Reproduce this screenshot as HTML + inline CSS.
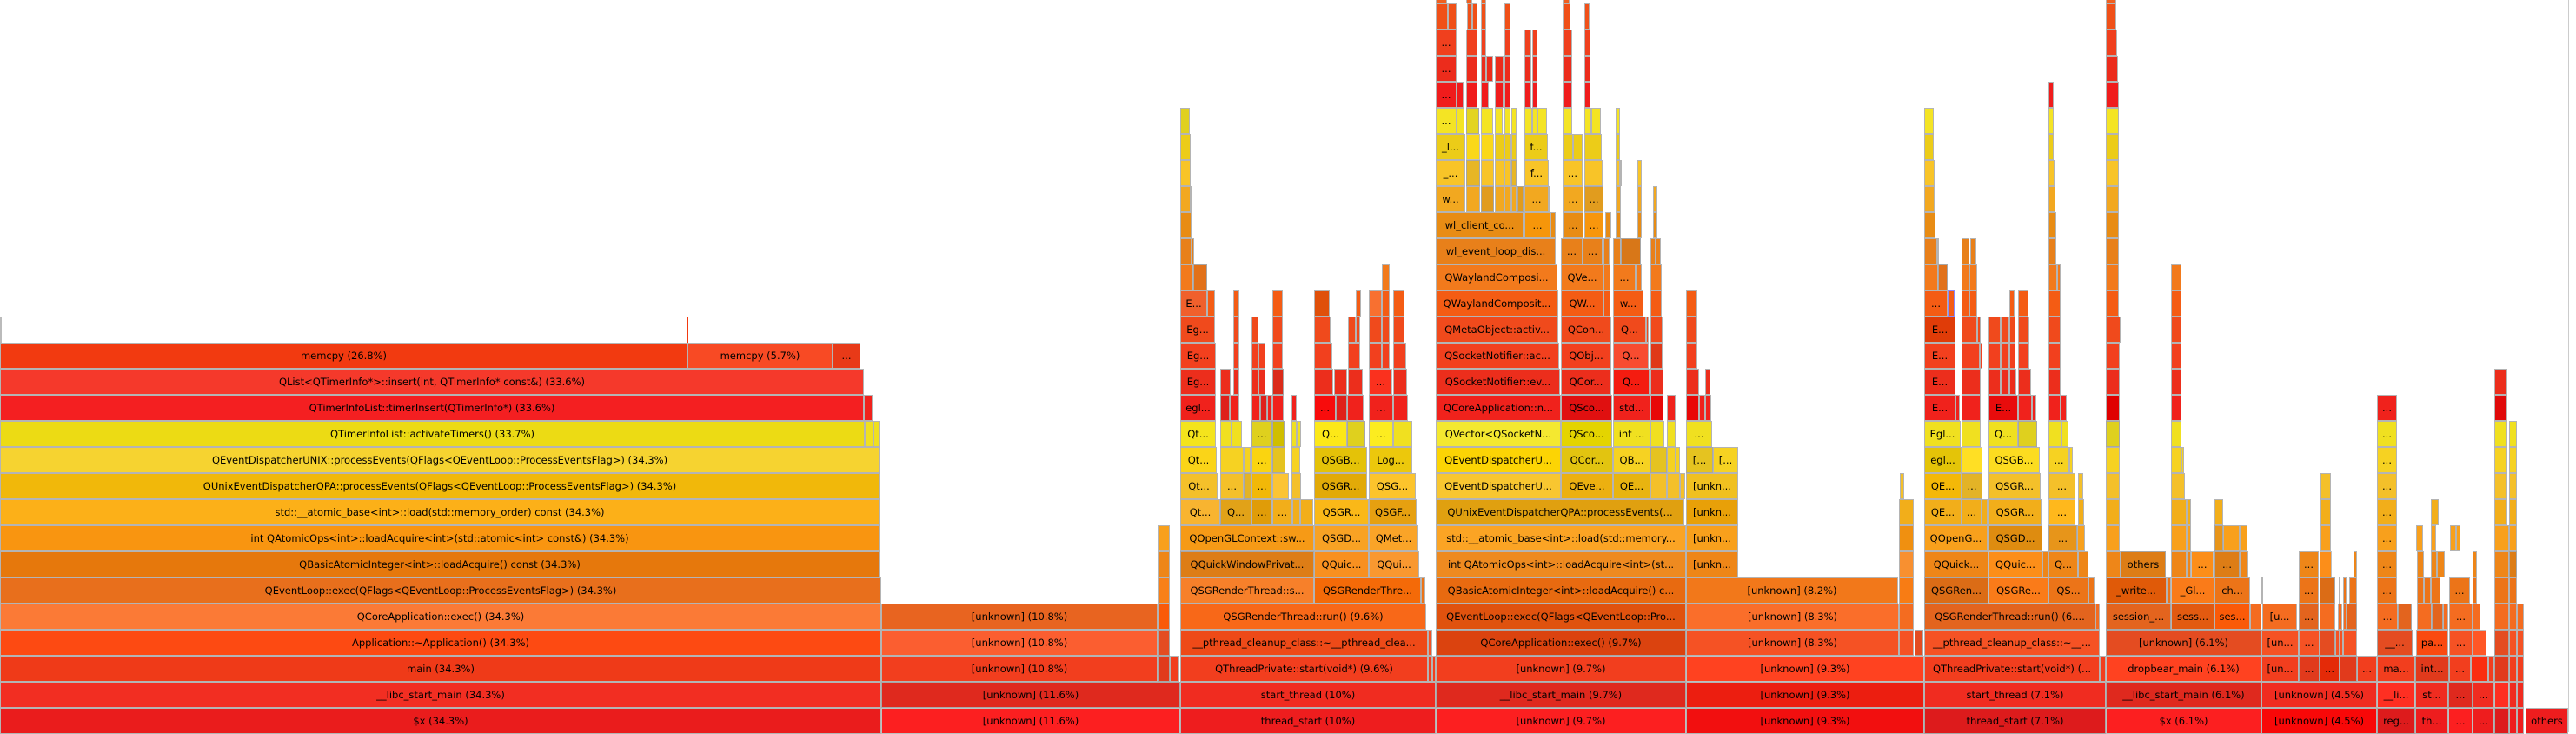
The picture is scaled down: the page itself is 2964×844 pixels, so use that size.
<!DOCTYPE html>
<html><head><meta charset="utf-8"><style>
html,body{margin:0;padding:0;background:#fff;}
body{width:2964px;height:842px;position:relative;overflow:hidden;}
i{position:absolute;height:30px;box-sizing:border-box;border:1px solid #b4b4b4;font:11.5px/28px "DejaVu Sans",sans-serif;color:#000;text-align:center;white-space:nowrap;overflow:hidden;font-style:normal;}
.r0{top:814px;background:#ee1d1e}.r1{top:784px;background:#f02c20}.r2{top:754px;background:#f23e1e}.r3{top:724px;background:#f55224}.r4{top:694px;background:#f46c20}
.r5{top:664px;background:#ec7418}.r6{top:634px;background:#ee8618}.r7{top:604px;background:#f8a01c}.r8{top:574px;background:#f2ae1a}.r9{top:544px;background:#f4c02a}
.r10{top:514px;background:#f6d222}.r11{top:484px;background:#f0e020}.r12{top:454px;background:#f0221c}.r13{top:424px;background:#ec2e1c}.r14{top:394px;background:#f2401e}
.r15{top:364px;background:#f04a1c}.r16{top:334px;background:#f45c14}.r17{top:304px;background:#f27a1c}.r18{top:274px;background:#e8801a}.r19{top:244px;background:#e88c14}
.r20{top:214px;background:#f2a820}.r21{top:184px;background:#f8c428}.r22{top:154px;background:#eccc18}.r23{top:124px;background:#f4e424}.r24{top:94px;background:#f01c1c}
.r25{top:64px;background:#ec2c1c}.r26{top:34px;background:#f0401e}.r27{top:4px;background:#f05018}.r28{top:-26px;background:#f06020}
.d{filter:brightness(.93)}.e{filter:brightness(1.06)}
</style></head><body>
<div style="position:absolute;left:2955px;top:0;width:1px;height:842px;background:#ccc"></div>
<!-- row 0 -->
<i class="r0" style="left:0;width:1014px;background:#ea1c1c">$x (34.3%)</i>
<i class="r0 e" style="left:1014px;width:344px">[unknown] (11.6%)</i>
<i class="r0" style="left:1358px;width:294px">thread_start (10%)</i>
<i class="r0 e" style="left:1652px;width:288px">[unknown] (9.7%)</i>
<i class="r0" style="left:1940px;width:274px;background:#f20f0f">[unknown] (9.3%)</i>
<i class="r0 d" style="left:2214px;width:209px">thread_start (7.1%)</i>
<i class="r0 e" style="left:2423px;width:179px">$x (6.1%)</i>
<i class="r0" style="left:2602px;width:133px;background:#f80808">[unknown] (4.5%)</i>
<i class="r0 d" style="left:2735px;width:44px">reg...</i>
<i class="r0" style="left:2779px;width:38px">th...</i>
<i class="r0 e" style="left:2817px;width:28px">...</i>
<i class="r0" style="left:2845px;width:25px">...</i>
<i class="r0 d" style="left:2870px;width:17px"></i>
<i class="r0" style="left:2887px;width:9px"></i>
<i class="r0" style="left:2896px;width:8px"></i>
<i class="r0" style="left:2906px;width:49px">others</i>
<!-- row 1 -->
<i class="r1" style="left:0;width:1014px;background:#f22e22">__libc_start_main (34.3%)</i>
<i class="r1 d" style="left:1014px;width:344px">[unknown] (11.6%)</i>
<i class="r1" style="left:1358px;width:294px">start_thread (10%)</i>
<i class="r1 d" style="left:1652px;width:288px">__libc_start_main (9.7%)</i>
<i class="r1" style="left:1940px;width:274px;background:#ec1e10">[unknown] (9.3%)</i>
<i class="r1" style="left:2214px;width:209px">start_thread (7.1%)</i>
<i class="r1 d" style="left:2423px;width:179px">__libc_start_main (6.1%)</i>
<i class="r1" style="left:2602px;width:133px">[unknown] (4.5%)</i>
<i class="r1 e" style="left:2735px;width:44px">__li...</i>
<i class="r1" style="left:2779px;width:38px">st...</i>
<i class="r1 d" style="left:2817px;width:28px">...</i>
<i class="r1" style="left:2845px;width:25px">...</i>
<i class="r1 e" style="left:2870px;width:17px"></i>
<i class="r1" style="left:2887px;width:9px"></i>
<i class="r1" style="left:2896px;width:8px"></i>
<!-- row 2 -->
<i class="r2" style="left:0;width:1014px;background:#ef3a18">main (34.3%)</i>
<i class="r2" style="left:1014px;width:318px">[unknown] (10.8%)</i>
<i class="r2 d" style="left:1332px;width:14px"></i>
<i class="r2" style="left:1346px;width:11px"></i>
<i class="r2" style="left:1358px;width:285px">QThreadPrivate::start(void*) (9.6%)</i>
<i class="r2" style="left:1643px;width:5px"></i><i class="r2" style="left:1648px;width:4px"></i>
<i class="r2" style="left:1652px;width:288px">[unknown] (9.7%)</i>
<i class="r2 e" style="left:1940px;width:274px">[unknown] (9.3%)</i>
<i class="r2" style="left:2214px;width:202px">QThreadPrivate::start(void*) (...</i>
<i class="r2" style="left:2416px;width:7px"></i>
<i class="r2 e" style="left:2423px;width:179px">dropbear_main (6.1%)</i>
<i class="r2" style="left:2602px;width:43px">[un...</i>
<i class="r2 d" style="left:2645px;width:24px">...</i>
<i class="r2" style="left:2669px;width:23px;background:#e42a08">...</i>
<i class="r2 d" style="left:2692px;width:20px"></i>
<i class="r2" style="left:2712px;width:23px">...</i>
<i class="r2" style="left:2735px;width:44px">ma...</i>
<i class="r2 d" style="left:2779px;width:39px">int...</i>
<i class="r2" style="left:2818px;width:25px">...</i>
<i class="r2" style="left:2843px;width:20px;background:#fa2e10"></i>
<i class="r2" style="left:2863px;width:7px"></i>
<i class="r2 d" style="left:2870px;width:17px"></i>
<i class="r2" style="left:2887px;width:9px"></i>
<i class="r2" style="left:2896px;width:8px"></i>
<!-- row 3 -->
<i class="r3" style="left:0;width:1014px;background:#fd4a12">Application::~Application() (34.3%)</i>
<i class="r3" style="left:1014px;width:318px;background:#fb5e30">[unknown] (10.8%)</i>
<i class="r3 d" style="left:1332px;width:14px"></i>
<i class="r3" style="left:1358px;width:285px;background:#ee4a18">__pthread_cleanup_class::~__pthread_clea...</i>
<i class="r3" style="left:1643px;width:5px"></i>
<i class="r3 d" style="left:1652px;width:288px;background:#ec4810">QCoreApplication::exec() (9.7%)</i>
<i class="r3" style="left:1940px;width:245px">[unknown] (8.3%)</i>
<i class="r3" style="left:2185px;width:17px"></i><i class="r3 d" style="left:2203px;width:10px"></i>
<i class="r3" style="left:2214px;width:202px">__pthread_cleanup_class::~__...</i>
<i class="r3 d" style="left:2423px;width:179px">[unknown] (6.1%)</i>
<i class="r3" style="left:2602px;width:43px">[un...</i>
<i class="r3" style="left:2645px;width:24px">...</i>
<i class="r3 d" style="left:2669px;width:18px"></i><i class="r3" style="left:2687px;width:5px"></i><i class="r3" style="left:2692px;width:4px"></i><i class="r3" style="left:2696px;width:16px"></i>
<i class="r3 d" style="left:2735px;width:41px">__...</i>
<i class="r3" style="left:2780px;width:37px;background:#fa4a10">pa...</i>
<i class="r3" style="left:2818px;width:27px">...</i>
<i class="r3 e" style="left:2845px;width:16px"></i>
<i class="r3 d" style="left:2870px;width:17px"></i><i class="r3" style="left:2887px;width:9px"></i><i class="r3" style="left:2896px;width:8px"></i>
<!-- row 4 -->
<i class="r4" style="left:0;width:1014px;background:#fb7a36">QCoreApplication::exec() (34.3%)</i>
<i class="r4" style="left:1014px;width:318px;background:#e86420">[unknown] (10.8%)</i>
<i class="r4" style="left:1332px;width:14px;background:#fa5a08"></i>
<i class="r4" style="left:1358px;width:283px;background:#f86818">QSGRenderThread::run() (9.6%)</i>
<i class="r4" style="left:1652px;width:288px;background:#e0520e">QEventLoop::exec(QFlags&lt;QEventLoop::Pro...</i>
<i class="r4" style="left:1940px;width:245px;background:#fa6e2a">[unknown] (8.3%)</i>
<i class="r4" style="left:2185px;width:17px"></i>
<i class="r4 d" style="left:2214px;width:197px">QSGRenderThread::run() (6....</i>
<i class="r4" style="left:2411px;width:5px"></i>
<i class="r4 d" style="left:2423px;width:75px">session_...</i>
<i class="r4" style="left:2498px;width:50px;background:#e25a10">sess...</i>
<i class="r4" style="left:2548px;width:41px;background:#fa5a08">ses...</i>
<i class="r4" style="left:2589px;width:13px"></i>
<i class="r4" style="left:2603px;width:40px">[u...</i>
<i class="r4 d" style="left:2645px;width:23px">...</i>
<i class="r4" style="left:2669px;width:18px"></i><i class="r4" style="left:2690px;width:5px"></i><i class="r4" style="left:2696px;width:4px"></i><i class="r4 d" style="left:2700px;width:12px"></i>
<i class="r4" style="left:2735px;width:24px">...</i><i class="r4 d" style="left:2759px;width:16px"></i>
<i class="r4" style="left:2781px;width:17px"></i><i class="r4 d" style="left:2798px;width:13px"></i><i class="r4" style="left:2811px;width:6px"></i>
<i class="r4" style="left:2818px;width:27px">...</i><i class="r4" style="left:2845px;width:9px"></i>
<i class="r4" style="left:2870px;width:17px"></i><i class="r4" style="left:2887px;width:9px"></i><i class="r4" style="left:2896px;width:8px"></i>
<!-- row 5 -->
<i class="r5" style="left:0;width:1014px;background:#e86f1c">QEventLoop::exec(QFlags&lt;QEventLoop::ProcessEventsFlag&gt;) (34.3%)</i>
<i class="r5" style="left:1332px;width:14px;background:#f88018"></i>
<i class="r5" style="left:1358px;width:154px;background:#f7802a">QSGRenderThread::s...</i>
<i class="r5" style="left:1512px;width:123px;background:#f46a08">QSGRenderThre...</i>
<i class="r5" style="left:1635px;width:5px"></i>
<i class="r5" style="left:1652px;width:288px;background:#e86a10">QBasicAtomicInteger&lt;int&gt;::loadAcquire() c...</i>
<i class="r5" style="left:1940px;width:244px;background:#f2781a">[unknown] (8.2%)</i>
<i class="r5" style="left:2185px;width:17px;background:#f87c14"></i>
<i class="r5 d" style="left:2214px;width:74px">QSGRen...</i>
<i class="r5 e" style="left:2288px;width:69px">QSGRe...</i>
<i class="r5" style="left:2357px;width:46px">QS...</i><i class="r5" style="left:2403px;width:7px"></i>
<i class="r5" style="left:2423px;width:70px;background:#e05a08">_write...</i><i class="r5" style="left:2493px;width:5px"></i>
<i class="r5 e" style="left:2498px;width:50px">_Gl...</i>
<i class="r5" style="left:2548px;width:41px">ch...</i>
<i class="r5" style="left:2602px;width:2px"></i>
<i class="r5" style="left:2645px;width:23px">...</i><i class="r5 d" style="left:2669px;width:18px"></i>
<i class="r5" style="left:2691px;width:2px"></i><i class="r5" style="left:2696px;width:4px"></i><i class="r5" style="left:2703px;width:9px"></i>
<i class="r5" style="left:2735px;width:23px">...</i>
<i class="r5" style="left:2781px;width:8px"></i><i class="r5" style="left:2789px;width:8px"></i><i class="r5" style="left:2797px;width:11px"></i>
<i class="r5" style="left:2818px;width:24px">...</i><i class="r5" style="left:2845px;width:5px"></i>
<i class="r5" style="left:2870px;width:17px"></i><i class="r5" style="left:2887px;width:9px"></i>
<!-- row 6 -->
<i class="r6" style="left:0;width:1012px;background:#e6780c">QBasicAtomicInteger&lt;int&gt;::loadAcquire() const (34.3%)</i>
<i class="r6" style="left:1332px;width:14px"></i>
<i class="r6 d" style="left:1358px;width:154px">QQuickWindowPrivat...</i>
<i class="r6" style="left:1512px;width:63px;background:#f89020">QQuic...</i>
<i class="r6" style="left:1575px;width:58px;background:#f99830">QQui...</i>
<i class="r6" style="left:1652px;width:288px;background:#ee8a20">int QAtomicOps&lt;int&gt;::loadAcquire&lt;int&gt;(st...</i>
<i class="r6" style="left:1940px;width:60px">[unkn...</i>
<i class="r6" style="left:2185px;width:17px;background:#f89030"></i>
<i class="r6" style="left:2214px;width:74px">QQuick...</i>
<i class="r6 e" style="left:2288px;width:62px">QQuic...</i><i class="r6" style="left:2350px;width:7px"></i>
<i class="r6" style="left:2357px;width:34px">Q...</i><i class="r6" style="left:2391px;width:12px"></i>
<i class="r6" style="left:2423px;width:17px"></i>
<i class="r6 d" style="left:2440px;width:52px">others</i>
<i class="r6" style="left:2498px;width:18px"></i><i class="r6" style="left:2516px;width:5px"></i><i class="r6 e" style="left:2521px;width:26px">...</i>
<i class="r6 d" style="left:2548px;width:29px">...</i><i class="r6" style="left:2577px;width:10px"></i>
<i class="r6" style="left:2645px;width:23px">...</i><i class="r6 e" style="left:2669px;width:14px"></i><i class="r6" style="left:2708px;width:4px"></i>
<i class="r6" style="left:2735px;width:23px">...</i>
<i class="r6" style="left:2781px;width:8px"></i><i class="r6" style="left:2797px;width:7px"></i><i class="r6" style="left:2804px;width:9px"></i>
<i class="r6" style="left:2845px;width:5px"></i><i class="r6" style="left:2870px;width:17px"></i><i class="r6 d" style="left:2887px;width:9px"></i>
<!-- row 7 -->
<i class="r7" style="left:0;width:1012px;background:#f99510">int QAtomicOps&lt;int&gt;::loadAcquire&lt;int&gt;(std::atomic&lt;int&gt; const&amp;) (34.3%)</i>
<i class="r7" style="left:1332px;width:14px"></i>
<i class="r7" style="left:1358px;width:154px;background:#f69a16">QOpenGLContext::sw...</i>
<i class="r7" style="left:1512px;width:63px;background:#f8a224">QSGD...</i>
<i class="r7" style="left:1575px;width:57px;background:#faa428">QMet...</i>
<i class="r7" style="left:1652px;width:288px;background:#fba424">std::__atomic_base&lt;int&gt;::load(std::memory...</i>
<i class="r7" style="left:1940px;width:60px">[unkn...</i>
<i class="r7" style="left:2185px;width:17px;background:#f09010"></i>
<i class="r7" style="left:2214px;width:73px">QOpenG...</i>
<i class="r7" style="left:2288px;width:62px;background:#de8c10">QSGD...</i>
<i class="r7 d" style="left:2357px;width:33px">...</i><i class="r7" style="left:2390px;width:9px"></i>
<i class="r7" style="left:2423px;width:16px"></i>
<i class="r7" style="left:2498px;width:18px"></i><i class="r7" style="left:2516px;width:5px"></i><i class="r7 d" style="left:2548px;width:10px"></i><i class="r7" style="left:2558px;width:19px"></i><i class="r7" style="left:2577px;width:9px"></i>
<i class="r7" style="left:2670px;width:12px"></i>
<i class="r7" style="left:2735px;width:23px">...</i>
<i class="r7" style="left:2780px;width:8px"></i><i class="r7" style="left:2797px;width:6px"></i><i class="r7" style="left:2819px;width:7px"></i><i class="r7" style="left:2826px;width:5px"></i>
<i class="r7" style="left:2870px;width:17px"></i><i class="r7" style="left:2887px;width:9px"></i>
<!-- row 8 -->
<i class="r8" style="left:0;width:1012px;background:#fcb018">std::__atomic_base&lt;int&gt;::load(std::memory_order) const (34.3%)</i>
<i class="r8" style="left:1358px;width:46px;background:#f8b430">Qt...</i>
<i class="r8 d" style="left:1404px;width:36px">Q...</i>
<i class="r8" style="left:1440px;width:24px;background:#e09c08">...</i>
<i class="r8" style="left:1464px;width:23px">...</i>
<i class="r8" style="left:1487px;width:9px"></i><i class="r8" style="left:1496px;width:15px"></i>
<i class="r8" style="left:1512px;width:63px;background:#fab818">QSGR...</i>
<i class="r8" style="left:1575px;width:55px;background:#e6a010">QSGF...</i>
<i class="r8" style="left:1652px;width:286px;background:#e0a010">QUnixEventDispatcherQPA::processEvents(...</i>
<i class="r8" style="left:1940px;width:60px;background:#e8a008">[unkn...</i>
<i class="r8" style="left:2185px;width:17px"></i>
<i class="r8" style="left:2214px;width:43px">QE...</i><i class="r8" style="left:2257px;width:23px">...</i><i class="r8" style="left:2280px;width:7px"></i>
<i class="r8" style="left:2288px;width:61px">QSGR...</i>
<i class="r8 e" style="left:2357px;width:31px">...</i><i class="r8" style="left:2391px;width:7px"></i>
<i class="r8" style="left:2423px;width:16px"></i>
<i class="r8" style="left:2498px;width:18px"></i><i class="r8" style="left:2516px;width:5px"></i><i class="r8" style="left:2548px;width:10px"></i>
<i class="r8" style="left:2670px;width:12px"></i>
<i class="r8" style="left:2735px;width:23px">...</i>
<i class="r8" style="left:2797px;width:9px"></i>
<i class="r8" style="left:2870px;width:15px"></i><i class="r8" style="left:2887px;width:9px"></i>
<!-- row 9 -->
<i class="r9" style="left:0;width:1012px;background:#f1b80a">QUnixEventDispatcherQPA::processEvents(QFlags&lt;QEventLoop::ProcessEventsFlag&gt;) (34.3%)</i>
<i class="r9" style="left:1358px;width:43px">Qt...</i>
<i class="r9" style="left:1404px;width:27px">...</i><i class="r9 d" style="left:1431px;width:9px"></i>
<i class="r9" style="left:1440px;width:24px;background:#f2b808">...</i>
<i class="r9" style="left:1464px;width:19px;background:#fcc434"></i>
<i class="r9" style="left:1486px;width:11px"></i>
<i class="r9" style="left:1512px;width:61px;background:#e2aa08">QSGR...</i>
<i class="r9" style="left:1575px;width:54px;background:#fcc42c">QSG...</i>
<i class="r9" style="left:1652px;width:144px;background:#f8c630">QEventDispatcherU...</i>
<i class="r9" style="left:1796px;width:60px;background:#ecb010">QEve...</i>
<i class="r9" style="left:1856px;width:43px;background:#e8b410">QE...</i>
<i class="r9" style="left:1899px;width:19px"></i><i class="r9" style="left:1918px;width:15px"></i><i class="r9" style="left:1933px;width:6px"></i>
<i class="r9" style="left:1940px;width:60px;background:#f0c020">[unkn...</i>
<i class="r9" style="left:2186px;width:5px"></i>
<i class="r9" style="left:2214px;width:43px;background:#f4b808">QE...</i><i class="r9 d" style="left:2257px;width:24px">...</i>
<i class="r9" style="left:2288px;width:60px">QSGR...</i>
<i class="r9" style="left:2357px;width:31px">...</i><i class="r9" style="left:2391px;width:6px"></i>
<i class="r9" style="left:2423px;width:16px"></i><i class="r9" style="left:2498px;width:16px"></i><i class="r9" style="left:2670px;width:12px"></i>
<i class="r9" style="left:2735px;width:23px">...</i>
<i class="r9" style="left:2870px;width:15px"></i><i class="r9" style="left:2887px;width:9px"></i>
<!-- row 10 -->
<i class="r10" style="left:0;width:1012px;background:#f6d330">QEventDispatcherUNIX::processEvents(QFlags&lt;QEventLoop::ProcessEventsFlag&gt;) (34.3%)</i>
<i class="r10" style="left:1358px;width:42px;background:#fad418">Qt...</i>
<i class="r10" style="left:1404px;width:27px"></i><i class="r10" style="left:1431px;width:8px"></i>
<i class="r10" style="left:1440px;width:24px;background:#fad410">...</i>
<i class="r10 d" style="left:1464px;width:15px"></i>
<i class="r10" style="left:1486px;width:10px"></i>
<i class="r10" style="left:1512px;width:61px;background:#e4c208">QSGB...</i>
<i class="r10" style="left:1575px;width:50px;background:#ecc80c">Log...</i>
<i class="r10" style="left:1652px;width:144px;background:#fcd404">QEventDispatcherU...</i>
<i class="r10" style="left:1796px;width:60px;background:#e2c410">QCor...</i>
<i class="r10" style="left:1856px;width:43px">QB...</i>
<i class="r10 d" style="left:1899px;width:19px"></i><i class="r10" style="left:1918px;width:10px"></i><i class="r10" style="left:1928px;width:5px"></i>
<i class="r10 d" style="left:1940px;width:31px">[...</i><i class="r10" style="left:1971px;width:29px">[...</i>
<i class="r10" style="left:2214px;width:43px;background:#e4c408">egl...</i><i class="r10 e" style="left:2257px;width:24px"></i>
<i class="r10" style="left:2288px;width:59px;background:#fcdc20">QSGB...</i>
<i class="r10" style="left:2357px;width:24px">...</i><i class="r10" style="left:2381px;width:4px"></i>
<i class="r10" style="left:2423px;width:16px"></i><i class="r10" style="left:2498px;width:12px"></i><i class="r10" style="left:2510px;width:3px"></i>
<i class="r10" style="left:2735px;width:23px">...</i>
<i class="r10" style="left:2870px;width:15px"></i><i class="r10" style="left:2887px;width:9px"></i>
<!-- row 11 -->
<i class="r11" style="left:0;width:995px;background:#ecdb14">QTimerInfoList::activateTimers() (33.7%)</i>
<i class="r11" style="left:995px;width:10px"></i><i class="r11" style="left:1005px;width:7px"></i>
<i class="r11" style="left:1358px;width:41px;background:#f4e41c">Qt...</i>
<i class="r11" style="left:1404px;width:13px"></i><i class="r11" style="left:1417px;width:12px"></i>
<i class="r11 d" style="left:1440px;width:24px">...</i><i class="r11 d" style="left:1464px;width:14px;background:#e0cc00"></i>
<i class="r11" style="left:1486px;width:6px"></i><i class="r11" style="left:1492px;width:5px"></i>
<i class="r11" style="left:1512px;width:38px;background:#fce818">Q...</i><i class="r11 d" style="left:1550px;width:21px"></i>
<i class="r11" style="left:1575px;width:28px;background:#fcec20">...</i><i class="r11" style="left:1603px;width:22px"></i>
<i class="r11" style="left:1652px;width:144px;background:#f4e830">QVector&lt;QSocketN...</i>
<i class="r11" style="left:1796px;width:59px;background:#e4d400">QSco...</i>
<i class="r11" style="left:1856px;width:43px">int ...</i>
<i class="r11" style="left:1899px;width:16px"></i><i class="r11" style="left:1918px;width:10px"></i>
<i class="r11" style="left:1940px;width:30px">...</i>
<i class="r11" style="left:2214px;width:42px">Egl...</i><i class="r11" style="left:2257px;width:22px"></i>
<i class="r11" style="left:2288px;width:34px">Q...</i><i class="r11 d" style="left:2322px;width:22px"></i>
<i class="r11" style="left:2357px;width:15px"></i><i class="r11" style="left:2372px;width:8px"></i>
<i class="r11 d" style="left:2423px;width:16px"></i><i class="r11" style="left:2498px;width:12px"></i>
<i class="r11" style="left:2735px;width:23px">...</i>
<i class="r11" style="left:2870px;width:15px"></i><i class="r11" style="left:2887px;width:9px"></i>
<!-- row 12 -->
<i class="r12" style="left:0;width:994px;background:#f41f21">QTimerInfoList::timerInsert(QTimerInfo*) (33.6%)</i>
<i class="r12" style="left:994px;width:10px"></i>
<i class="r12" style="left:1358px;width:41px">egl...</i>
<i class="r12 d" style="left:1404px;width:11px"></i><i class="r12" style="left:1415px;width:11px"></i>
<i class="r12" style="left:1440px;width:10px"></i><i class="r12 d" style="left:1450px;width:8px"></i><i class="r12" style="left:1458px;width:6px"></i><i class="r12" style="left:1464px;width:13px"></i>
<i class="r12" style="left:1486px;width:6px"></i>
<i class="r12" style="left:1512px;width:25px;background:#f80c0c">...</i><i class="r12 d" style="left:1537px;width:13px"></i><i class="r12" style="left:1550px;width:19px"></i>
<i class="r12" style="left:1575px;width:28px">...</i><i class="r12" style="left:1603px;width:17px"></i>
<i class="r12" style="left:1652px;width:144px">QCoreApplication::n...</i>
<i class="r12" style="left:1796px;width:59px;background:#e01010">QSco...</i>
<i class="r12" style="left:1856px;width:43px">std...</i>
<i class="r12" style="left:1899px;width:15px;background:#e80808"></i><i class="r12" style="left:1918px;width:10px"></i>
<i class="r12" style="left:1940px;width:15px;background:#e80808"></i><i class="r12" style="left:1955px;width:7px"></i><i class="r12" style="left:1962px;width:7px"></i>
<i class="r12" style="left:2214px;width:36px">E...</i><i class="r12" style="left:2250px;width:5px"></i><i class="r12" style="left:2257px;width:22px"></i>
<i class="r12" style="left:2288px;width:34px;background:#e80c0c">E...</i><i class="r12" style="left:2322px;width:16px"></i><i class="r12" style="left:2338px;width:5px"></i>
<i class="r12" style="left:2357px;width:14px"></i><i class="r12" style="left:2371px;width:7px"></i>
<i class="r12" style="left:2423px;width:16px;background:#e00000"></i><i class="r12" style="left:2498px;width:12px"></i>
<i class="r12" style="left:2735px;width:23px">...</i>
<i class="r12" style="left:2870px;width:15px;background:#e00a0a"></i>
<!-- row 13 -->
<i class="r13" style="left:0;width:994px;background:#f5392b">QList&lt;QTimerInfo*&gt;::insert(int, QTimerInfo* const&amp;) (33.6%)</i>
<i class="r13" style="left:1358px;width:41px">Eg...</i>
<i class="r13" style="left:1404px;width:12px"></i><i class="r13" style="left:1419px;width:7px"></i>
<i class="r13" style="left:1440px;width:8px"></i><i class="r13" style="left:1448px;width:8px"></i><i class="r13 d" style="left:1464px;width:13px"></i>
<i class="r13" style="left:1512px;width:22px"></i><i class="r13" style="left:1535px;width:15px"></i><i class="r13" style="left:1551px;width:17px"></i>
<i class="r13 e" style="left:1575px;width:27px">...</i><i class="r13" style="left:1603px;width:16px"></i>
<i class="r13" style="left:1652px;width:143px">QSocketNotifier::ev...</i>
<i class="r13" style="left:1796px;width:58px">QCor...</i>
<i class="r13" style="left:1856px;width:42px;background:#f41c10">Q...</i>
<i class="r13" style="left:1899px;width:15px"></i><i class="r13" style="left:1940px;width:15px"></i><i class="r13" style="left:1962px;width:6px"></i>
<i class="r13" style="left:2214px;width:36px">E...</i><i class="r13" style="left:2257px;width:22px"></i>
<i class="r13" style="left:2288px;width:14px"></i><i class="r13" style="left:2302px;width:10px"></i><i class="r13" style="left:2312px;width:8px"></i><i class="r13" style="left:2322px;width:15px"></i>
<i class="r13" style="left:2357px;width:14px"></i><i class="r13" style="left:2423px;width:16px"></i><i class="r13" style="left:2498px;width:12px"></i>
<i class="r13" style="left:2870px;width:15px"></i>
<!-- row 14 -->
<i class="r14" style="left:0;width:791px;background:#f23a10">memcpy (26.8%)</i>
<i class="r14" style="left:791px;width:167px;background:#f84a24">memcpy (5.7%)</i>
<i class="r14" style="left:958px;width:32px;background:#e83a18">...</i>
<i class="r14" style="left:1358px;width:41px">Eg...</i>
<i class="r14" style="left:1419px;width:7px"></i><i class="r14" style="left:1440px;width:8px"></i><i class="r14" style="left:1448px;width:8px"></i><i class="r14" style="left:1464px;width:12px"></i>
<i class="r14" style="left:1512px;width:21px"></i><i class="r14" style="left:1551px;width:14px"></i>
<i class="r14" style="left:1575px;width:15px"></i><i class="r14" style="left:1590px;width:9px"></i><i class="r14" style="left:1603px;width:15px"></i>
<i class="r14" style="left:1652px;width:142px">QSocketNotifier::ac...</i>
<i class="r14" style="left:1796px;width:58px">QObj...</i>
<i class="r14" style="left:1856px;width:41px;background:#f84c30">Q...</i>
<i class="r14" style="left:1899px;width:14px;background:#e03818"></i><i class="r14" style="left:1940px;width:13px"></i>
<i class="r14" style="left:2214px;width:36px">E...</i><i class="r14" style="left:2257px;width:21px"></i><i class="r14" style="left:2278px;width:3px"></i>
<i class="r14" style="left:2288px;width:14px"></i><i class="r14" style="left:2302px;width:10px"></i><i class="r14" style="left:2312px;width:7px"></i><i class="r14" style="left:2322px;width:13px"></i>
<i class="r14" style="left:2357px;width:14px"></i><i class="r14" style="left:2423px;width:16px"></i><i class="r14" style="left:2498px;width:12px"></i>
<!-- row 15 -->
<i class="r15" style="left:0;width:2px;border:none;background:#bbb"></i>
<i class="r15" style="left:791px;width:1px;border:none;background:#f23a10"></i>
<i class="r15" style="left:1358px;width:40px">Eg...</i>
<i class="r15" style="left:1419px;width:7px"></i><i class="r15" style="left:1440px;width:8px"></i><i class="r15" style="left:1464px;width:12px"></i>
<i class="r15" style="left:1512px;width:19px"></i><i class="r15" style="left:1551px;width:9px"></i><i class="r15" style="left:1560px;width:5px"></i>
<i class="r15" style="left:1575px;width:15px"></i><i class="r15" style="left:1590px;width:9px"></i><i class="r15" style="left:1603px;width:13px"></i>
<i class="r15" style="left:1652px;width:141px">QMetaObject::activ...</i>
<i class="r15" style="left:1796px;width:58px">QCon...</i>
<i class="r15" style="left:1856px;width:38px">Q...</i><i class="r15" style="left:1894px;width:3px"></i>
<i class="r15" style="left:1899px;width:14px"></i><i class="r15" style="left:1940px;width:13px"></i>
<i class="r15" style="left:2214px;width:36px;background:#e03c08">E...</i><i class="r15" style="left:2257px;width:18px"></i><i class="r15" style="left:2275px;width:4px"></i>
<i class="r15" style="left:2288px;width:14px"></i><i class="r15" style="left:2302px;width:10px"></i><i class="r15" style="left:2312px;width:7px"></i><i class="r15" style="left:2322px;width:13px"></i>
<i class="r15" style="left:2357px;width:14px"></i><i class="r15" style="left:2423px;width:17px"></i><i class="r15" style="left:2498px;width:12px"></i>
<!-- row 16 -->
<i class="r16" style="left:1358px;width:31px;background:#f0602c">E...</i><i class="r16" style="left:1389px;width:9px"></i>
<i class="r16" style="left:1419px;width:7px"></i><i class="r16" style="left:1464px;width:12px"></i>
<i class="r16" style="left:1512px;width:18px;background:#e0500a"></i><i class="r16" style="left:1560px;width:6px"></i>
<i class="r16" style="left:1575px;width:15px;background:#f87030"></i><i class="r16" style="left:1590px;width:9px"></i><i class="r16" style="left:1603px;width:13px"></i>
<i class="r16" style="left:1652px;width:141px">QWaylandComposit...</i>
<i class="r16" style="left:1796px;width:49px">QW...</i><i class="r16" style="left:1845px;width:8px"></i>
<i class="r16" style="left:1856px;width:35px">w...</i><i class="r16" style="left:1899px;width:13px"></i><i class="r16" style="left:1940px;width:13px"></i>
<i class="r16" style="left:2214px;width:27px">...</i><i class="r16" style="left:2241px;width:8px;border-color:#8888ff"></i>
<i class="r16" style="left:2257px;width:9px"></i><i class="r16" style="left:2266px;width:9px"></i>
<i class="r16" style="left:2312px;width:6px"></i><i class="r16" style="left:2322px;width:12px"></i>
<i class="r16" style="left:2357px;width:14px"></i><i class="r16" style="left:2423px;width:15px"></i><i class="r16" style="left:2498px;width:12px"></i>
<!-- row 17 -->
<i class="r17" style="left:1358px;width:15px"></i><i class="r17 d" style="left:1373px;width:16px"></i>
<i class="r17" style="left:1590px;width:9px"></i>
<i class="r17" style="left:1652px;width:140px">QWaylandComposi...</i>
<i class="r17" style="left:1796px;width:49px">QVe...</i><i class="r17" style="left:1845px;width:8px"></i>
<i class="r17" style="left:1856px;width:26px">...</i><i class="r17" style="left:1882px;width:7px"></i><i class="r17" style="left:1899px;width:13px"></i>
<i class="r17" style="left:2214px;width:16px"></i><i class="r17 d" style="left:2230px;width:11px"></i>
<i class="r17" style="left:2257px;width:9px"></i><i class="r17" style="left:2266px;width:9px"></i>
<i class="r17" style="left:2357px;width:10px"></i><i class="r17" style="left:2367px;width:4px"></i>
<i class="r17" style="left:2423px;width:15px"></i><i class="r17" style="left:2498px;width:12px"></i>
<!-- row 18 -->
<i class="r18" style="left:1358px;width:13px"></i><i class="r18" style="left:1371px;width:3px"></i>
<i class="r18" style="left:1652px;width:138px">wl_event_loop_dis...</i>
<i class="r18" style="left:1796px;width:25px">...</i><i class="r18" style="left:1821px;width:23px">...</i><i class="r18" style="left:1845px;width:7px"></i>
<i class="r18" style="left:1856px;width:9px"></i><i class="r18 d" style="left:1865px;width:23px"></i>
<i class="r18" style="left:1899px;width:6px"></i><i class="r18" style="left:1905px;width:6px"></i>
<i class="r18" style="left:2214px;width:15px"></i><i class="r18" style="left:2229px;width:2px"></i>
<i class="r18" style="left:2257px;width:9px"></i><i class="r18" style="left:2267px;width:7px"></i>
<i class="r18" style="left:2357px;width:9px"></i><i class="r18" style="left:2423px;width:15px"></i>
<!-- row 19 -->
<i class="r19" style="left:1358px;width:13px"></i>
<i class="r19" style="left:1652px;width:101px">wl_client_co...</i>
<i class="r19" style="left:1754px;width:30px;background:#f6960a">...</i><i class="r19" style="left:1784px;width:6px"></i>
<i class="r19" style="left:1798px;width:24px">...</i><i class="r19" style="left:1823px;width:22px;background:#f8960c">...</i>
<i class="r19" style="left:1847px;width:7px"></i><i class="r19" style="left:1859px;width:6px"></i><i class="r19" style="left:1884px;width:5px"></i><i class="r19" style="left:1902px;width:5px"></i>
<i class="r19" style="left:2214px;width:13px"></i><i class="r19" style="left:2357px;width:9px"></i><i class="r19" style="left:2423px;width:15px"></i>
<!-- row 20 -->
<i class="r20" style="left:1358px;width:12px"></i><i class="r20" style="left:1370px;width:2px"></i>
<i class="r20" style="left:1652px;width:34px">w...</i>
<i class="r20" style="left:1687px;width:16px"></i><i class="r20 d" style="left:1704px;width:15px"></i><i class="r20" style="left:1720px;width:11px"></i><i class="r20" style="left:1731px;width:8px"></i><i class="r20" style="left:1739px;width:6px"></i><i class="r20 d" style="left:1746px;width:7px"></i>
<i class="r20" style="left:1754px;width:28px">...</i><i class="r20" style="left:1782px;width:2px"></i>
<i class="r20" style="left:1798px;width:24px">...</i><i class="r20 d" style="left:1823px;width:22px">...</i>
<i class="r20" style="left:1859px;width:6px"></i><i class="r20" style="left:1884px;width:5px"></i><i class="r20" style="left:1902px;width:5px"></i>
<i class="r20" style="left:2214px;width:12px"></i><i class="r20" style="left:2357px;width:8px"></i><i class="r20" style="left:2423px;width:15px"></i>
<!-- row 21 -->
<i class="r21" style="left:1358px;width:12px"></i>
<i class="r21" style="left:1652px;width:34px">_...</i>
<i class="r21 d" style="left:1687px;width:16px"></i><i class="r21" style="left:1704px;width:15px"></i><i class="r21" style="left:1720px;width:11px"></i><i class="r21" style="left:1731px;width:8px"></i><i class="r21 d" style="left:1739px;width:6px"></i>
<i class="r21" style="left:1754px;width:28px">f...</i>
<i class="r21" style="left:1798px;width:23px">...</i><i class="r21" style="left:1823px;width:21px"></i>
<i class="r21" style="left:1859px;width:5px"></i><i class="r21" style="left:1864px;width:2px"></i><i class="r21" style="left:1884px;width:5px"></i>
<i class="r21" style="left:2214px;width:12px"></i><i class="r21" style="left:2357px;width:7px"></i><i class="r21" style="left:2423px;width:15px"></i>
<!-- row 22 -->
<i class="r22" style="left:1358px;width:12px"></i>
<i class="r22" style="left:1652px;width:34px">_l...</i>
<i class="r22 e" style="left:1687px;width:16px"></i><i class="r22 e" style="left:1704px;width:15px"></i><i class="r22" style="left:1720px;width:11px"></i><i class="r22" style="left:1731px;width:8px"></i><i class="r22" style="left:1739px;width:6px"></i>
<i class="r22" style="left:1754px;width:27px">f...</i>
<i class="r22" style="left:1798px;width:12px"></i><i class="r22" style="left:1810px;width:11px"></i><i class="r22" style="left:1823px;width:20px"></i>
<i class="r22" style="left:1859px;width:5px"></i>
<i class="r22" style="left:2214px;width:11px"></i><i class="r22" style="left:2357px;width:6px"></i><i class="r22" style="left:2423px;width:15px"></i>
<!-- row 23 -->
<i class="r23" style="left:1358px;width:11px;background:#e0d020"></i>
<i class="r23" style="left:1652px;width:24px">...</i>
<i class="r23" style="left:1676px;width:9px"></i><i class="r23 d" style="left:1687px;width:15px"></i><i class="r23" style="left:1704px;width:14px"></i><i class="r23" style="left:1720px;width:9px"></i><i class="r23" style="left:1731px;width:7px"></i><i class="r23" style="left:1739px;width:6px"></i>
<i class="r23" style="left:1754px;width:9px"></i><i class="r23" style="left:1763px;width:6px"></i><i class="r23" style="left:1769px;width:11px"></i>
<i class="r23" style="left:1798px;width:11px"></i><i class="r23" style="left:1823px;width:8px"></i><i class="r23" style="left:1831px;width:11px"></i><i class="r23" style="left:1859px;width:5px"></i>
<i class="r23" style="left:2214px;width:11px"></i><i class="r23" style="left:2357px;width:6px"></i><i class="r23" style="left:2423px;width:15px"></i>
<!-- row 24 -->
<i class="r24" style="left:1652px;width:24px">...</i>
<i class="r24" style="left:1676px;width:8px"></i><i class="r24" style="left:1687px;width:13px"></i><i class="r24" style="left:1704px;width:9px"></i><i class="r24" style="left:1720px;width:10px"></i><i class="r24" style="left:1731px;width:7px"></i>
<i class="r24" style="left:1754px;width:8px"></i><i class="r24" style="left:1763px;width:6px"></i><i class="r24" style="left:1798px;width:11px"></i><i class="r24" style="left:1823px;width:7px"></i>
<i class="r24" style="left:2357px;width:6px"></i><i class="r24" style="left:2423px;width:15px"></i>
<!-- row 25 -->
<i class="r25" style="left:1652px;width:24px">...</i>
<i class="r25" style="left:1687px;width:13px"></i><i class="r25" style="left:1704px;width:6px"></i><i class="r25" style="left:1710px;width:8px"></i><i class="r25" style="left:1720px;width:10px"></i><i class="r25" style="left:1731px;width:7px"></i>
<i class="r25" style="left:1754px;width:8px"></i><i class="r25" style="left:1763px;width:6px"></i><i class="r25" style="left:1798px;width:11px"></i><i class="r25" style="left:1823px;width:7px"></i>
<i class="r25" style="left:2423px;width:14px"></i>
<!-- row 26 -->
<i class="r26" style="left:1652px;width:24px">...</i>
<i class="r26" style="left:1687px;width:13px"></i><i class="r26" style="left:1704px;width:6px"></i><i class="r26" style="left:1731px;width:7px"></i>
<i class="r26" style="left:1754px;width:8px"></i><i class="r26" style="left:1763px;width:6px"></i><i class="r26" style="left:1798px;width:11px"></i><i class="r26" style="left:1823px;width:7px"></i>
<i class="r26" style="left:2423px;width:13px"></i>
<!-- row 27 -->
<i class="r27" style="left:1652px;width:14px"></i><i class="r27" style="left:1666px;width:10px"></i>
<i class="r27" style="left:1688px;width:6px"></i><i class="r27" style="left:1694px;width:6px"></i><i class="r27" style="left:1704px;width:6px"></i><i class="r27" style="left:1731px;width:7px"></i>
<i class="r27" style="left:1798px;width:9px"></i><i class="r27" style="left:1823px;width:6px"></i><i class="r27" style="left:2423px;width:12px"></i>
<!-- row 28 -->
<i class="r28" style="left:1652px;width:13px"></i><i class="r28" style="left:1687px;width:7px"></i><i class="r28" style="left:1704px;width:6px"></i><i class="r28" style="left:1798px;width:8px"></i><i class="r28" style="left:2423px;width:12px"></i>
</body></html>
